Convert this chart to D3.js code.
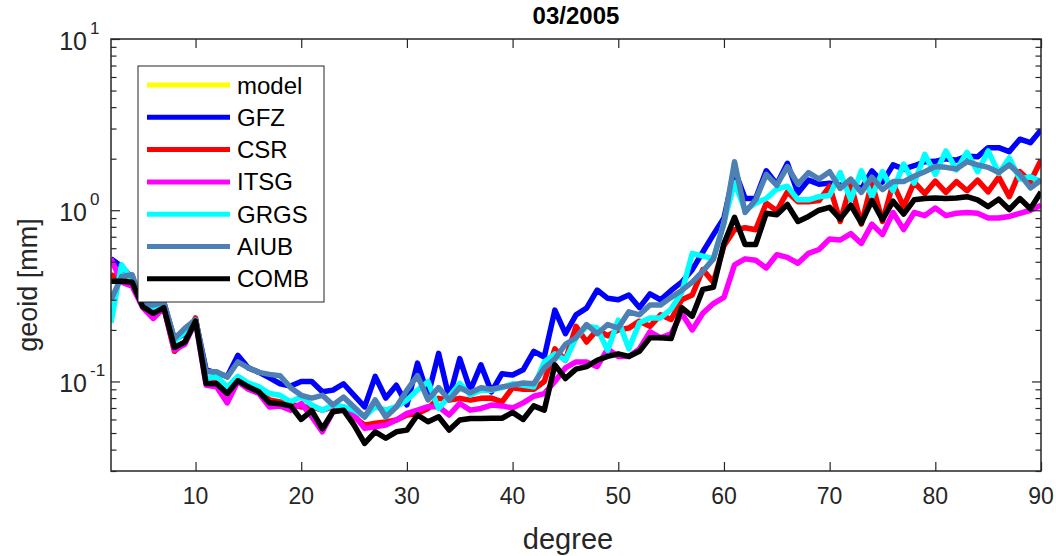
<!DOCTYPE html>
<html><head><meta charset="utf-8">
<script src="https://cdn.jsdelivr.net/npm/d3@7"></script>
<style>
body{margin:0;background:#fff;}
text{font-family:"Liberation Sans",Arial,Helvetica,sans-serif;fill:#262626;}
</style>
</head><body>
<svg id="c" width="1056" height="556"></svg>
<script>
const degrees = d3.range(2, 91);
const seriesNames = ["model","GFZ","CSR","ITSG","GRGS","AIUB","COMB"];
const seriesColors = ["#ffff00","#0000ff","#ff0000","#ff00ff","#00ffff","#4d80b3","#000000"];
const model = [];
const gfz = [0.52,0.47,0.40,0.28,0.29,0.29,0.175,0.19,0.23,
0.117,0.112,0.107,0.142,0.12,0.113,0.105,0.097,0.094,0.100,
0.100,0.087,0.089,0.097,0.083,0.071,0.107,0.080,0.095,0.073,
0.128,0.083,0.146,0.080,0.136,0.089,0.125,0.087,0.111,0.109,
0.117,0.15,0.139,0.261,0.19,0.245,0.268,0.342,0.306,0.30,
0.32,0.27,0.325,0.30,0.34,0.38,0.45,0.57,0.72,0.90,
1.72,1.17,1.17,1.70,1.42,1.88,1.26,1.50,1.42,1.44,
1.40,1.44,1.33,1.70,1.46,1.84,1.74,1.82,1.92,1.93,
2.0,1.96,2.07,2.05,2.32,2.32,2.2,2.6,2.48,2.94];
const csr = [0.42,0.40,0.37,0.28,0.25,0.27,0.15,0.17,0.235,
0.10,0.105,0.085,0.10,0.095,0.088,0.078,0.076,0.074,0.071,
0.071,0.068,0.071,0.068,0.062,0.0556,0.057,0.058,0.0595,0.0637,
0.065,0.0696,0.0797,0.0778,0.0797,0.0778,0.0797,0.08,0.076,0.092,
0.09,0.09,0.10,0.155,0.133,0.21,0.17,0.20,0.185,0.2,
0.205,0.225,0.21,0.245,0.23,0.30,0.32,0.45,0.38,0.62,
0.77,0.79,0.77,1.1,0.99,1.28,1.12,1.12,1.14,1.38,
0.86,1.42,0.83,1.45,0.86,1.43,1.05,1.46,1.25,1.48,
1.27,1.47,1.3,1.5,1.28,1.56,1.2,1.68,1.47,1.96];
const itsg = [0.52,0.38,0.36,0.27,0.233,0.27,0.153,0.165,0.225,
0.095,0.093,0.075,0.10,0.09,0.085,0.071,0.072,0.068,0.0744,
0.0622,0.0508,0.0665,0.068,0.0637,0.0532,0.0544,0.0556,0.0595,0.0651,
0.068,0.0712,0.0712,0.0637,0.0744,0.068,0.0696,0.0728,0.072,0.07,
0.075,0.082,0.085,0.10,0.12,0.13,0.13,0.122,0.155,0.14,
0.14,0.155,0.195,0.18,0.19,0.25,0.20,0.25,0.285,0.31,
0.48,0.52,0.51,0.46,0.55,0.53,0.49,0.56,0.59,0.68,
0.67,0.73,0.64,0.83,0.72,0.97,0.77,0.97,0.93,1.03,
0.93,0.96,0.97,0.96,0.9,0.9,0.92,0.96,1.0,1.07];
const grgs = [0.22,0.48,0.39,0.28,0.267,0.28,0.171,0.195,0.225,
0.104,0.107,0.093,0.107,0.098,0.093,0.085,0.083,0.076,0.0815,
0.0728,0.068,0.0728,0.0712,0.068,0.0622,0.0712,0.068,0.0712,0.0778,
0.0891,0.0996,0.0696,0.0815,0.0975,0.0833,0.0891,0.089,0.092,0.097,
0.095,0.093,0.13,0.145,0.133,0.18,0.21,0.205,0.152,0.228,
0.155,0.22,0.235,0.235,0.265,0.33,0.56,0.54,0.52,0.85,
1.45,1.0,1.1,1.17,1.33,1.38,1.15,1.15,1.2,1.22,
1.66,1.15,1.7,1.2,1.68,1.3,1.86,1.44,2.12,1.62,
2.22,1.72,2.18,1.68,2.22,1.64,2.02,1.52,1.57,1.47];
const aiub = [0.30,0.41,0.42,0.28,0.28,0.29,0.178,0.205,0.23,
0.114,0.114,0.106,0.13,0.12,0.113,0.11,0.108,0.092,0.083,
0.080,0.083,0.073,0.081,0.071,0.062,0.078,0.062,0.071,0.089,
0.108,0.078,0.092,0.078,0.092,0.086,0.092,0.09,0.093,0.095,
0.098,0.097,0.12,0.135,0.165,0.18,0.215,0.19,0.215,0.205,
0.255,0.245,0.28,0.28,0.31,0.34,0.38,0.44,0.52,0.84,
1.92,0.97,1.15,1.62,1.40,1.80,1.42,1.66,1.52,1.68,
1.34,1.52,1.27,1.56,1.32,1.47,1.47,1.58,1.68,1.80,
1.78,1.74,1.92,1.84,1.78,1.66,1.84,1.62,1.35,1.5];
const comb = [0.385,0.385,0.38,0.273,0.25,0.27,0.158,0.17,0.225,
0.0974,0.097,0.085,0.101,0.093,0.087,0.075,0.074,0.072,0.060,
0.0675,0.053,0.0665,0.068,0.0556,0.0435,0.0508,0.0466,0.0508,0.052,
0.0637,0.0582,0.0622,0.052,0.0595,0.0608,0.0608,0.061,0.061,0.066,
0.06,0.072,0.068,0.125,0.104,0.118,0.122,0.133,0.14,0.145,
0.14,0.15,0.18,0.18,0.178,0.27,0.24,0.345,0.355,0.64,
0.91,0.63,0.63,0.96,0.94,1.08,0.86,0.92,1.0,1.04,
0.89,1.07,0.84,1.14,0.88,1.13,0.95,1.15,1.17,1.18,
1.17,1.18,1.2,1.15,1.05,1.16,1.01,1.17,1.02,1.28];
const seriesValues = [model, gfz, csr, itsg, grgs, aiub, comb];
const xTicks = [10,20,30,40,50,60,70,80,90];
const yMajor = [0.1, 1, 10];
const yMajorExp = ["-1","0","1"];
const yMinor = [0.03,0.04,0.05,0.06,0.07,0.08,0.09,0.2,0.3,0.4,0.5,0.6,0.7,0.8,0.9,2,3,4,5,6,7,8,9];

const L = 111, R = 1041, T = 39, B = 471;
const axisColor = "#262626";
const svg = d3.select("#c");
const x = d3.scaleLinear().domain([2, 90]).range([L, R]);
const y = d3.scaleLog().domain([0.03, 10]).range([B, T]);

svg.append("defs").append("clipPath").attr("id","clip")
  .append("rect").attr("x",L).attr("y",T).attr("width",R-L).attr("height",B-T);

// lines
const line = d3.line().x((d,i)=>x(degrees[i])).y(d=>y(d));
const g = svg.append("g").attr("clip-path","url(#clip)");
seriesValues.forEach((vals, k) => {
  if (!vals.length) return;
  g.append("path").datum(vals).attr("d", line)
    .attr("fill","none").attr("stroke", seriesColors[k])
    .attr("stroke-width", 5.5).attr("stroke-linejoin","round");
});

// box
svg.append("rect").attr("x",L).attr("y",T).attr("width",R-L).attr("height",B-T)
  .attr("fill","none").attr("stroke",axisColor).attr("stroke-width",1.5);

const tickLen = 9, minorLen = 5.5;
function styleAxis(sel){ sel.select(".domain").remove(); sel.selectAll("line").attr("stroke",axisColor).attr("stroke-width",1.2); }
svg.append("g").attr("transform",`translate(0,${B})`)
  .call(d3.axisTop(x).tickValues(xTicks).tickSize(tickLen).tickFormat(""))
  .call(styleAxis);
svg.append("g").attr("transform",`translate(0,${T})`)
  .call(d3.axisBottom(x).tickValues(xTicks).tickSize(tickLen).tickFormat(""))
  .call(styleAxis);
svg.append("g").attr("transform",`translate(${L},0)`)
  .call(d3.axisRight(y).tickValues(yMajor).tickSize(tickLen).tickFormat(""))
  .call(styleAxis);
svg.append("g").attr("transform",`translate(${L},0)`)
  .call(d3.axisRight(y).tickValues(yMinor).tickSize(minorLen).tickFormat(""))
  .call(styleAxis);
svg.append("g").attr("transform",`translate(${R},0)`)
  .call(d3.axisLeft(y).tickValues(yMajor).tickSize(tickLen).tickFormat(""))
  .call(styleAxis);
svg.append("g").attr("transform",`translate(${R},0)`)
  .call(d3.axisLeft(y).tickValues(yMinor).tickSize(minorLen).tickFormat(""))
  .call(styleAxis);
svg.selectAll(".tick text").remove();

// x tick labels
svg.append("g").selectAll("text").data(xTicks).join("text")
  .attr("x", d=>x(d)).attr("y", B+33).attr("text-anchor","middle")
  .attr("font-size", 23).text(d=>d);

// y tick labels
yMajor.forEach((v,i)=>{
  svg.append("text").attr("x", L-24).attr("y", y(v)+11)
    .attr("text-anchor","end").attr("font-size",25).text("10");
  svg.append("text").attr("x", L-21).attr("y", y(v)-5)
    .attr("text-anchor","start").attr("font-size",17).text(yMajorExp[i]);
});

// axis labels
svg.append("text").attr("x",(L+R)/2 - 8).attr("y",549).attr("text-anchor","middle")
  .attr("font-size",29).text("degree");
svg.append("text").attr("transform",`translate(37,${(T+B)/2 + 30}) rotate(-90)`)
  .attr("text-anchor","middle").attr("font-size",27).text("geoid [mm]");
svg.append("text").attr("x",(L+R)/2).attr("y",24).attr("text-anchor","middle")
  .attr("font-size",24).attr("font-weight","bold").style("fill","#000").text("03/2005");

// legend
const lg = svg.append("g");
lg.append("rect").attr("x",138).attr("y",66).attr("width",186).attr("height",236)
  .attr("fill","#fff").attr("stroke",axisColor).attr("stroke-width",1);
seriesNames.forEach((n,i)=>{
  const yy = 85 + i*32.3;
  lg.append("line").attr("x1",147).attr("x2",230).attr("y1",yy).attr("y2",yy)
    .attr("stroke",seriesColors[i]).attr("stroke-width",5);
  lg.append("text").attr("x",237).attr("y",yy+8.5).attr("font-size",24).style("fill","#000").text(n);
});
</script>
</body></html>
